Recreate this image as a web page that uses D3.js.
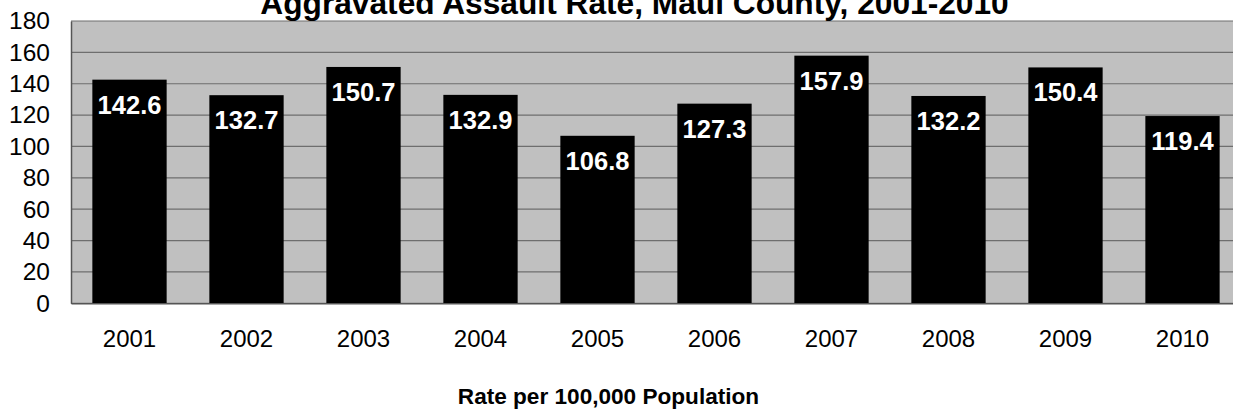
<!DOCTYPE html>
<html><head><meta charset="utf-8">
<script src="https://cdn.jsdelivr.net/npm/d3@7"></script>
<style>body{margin:0;background:#fff;overflow:hidden}svg{display:block;font-family:Arial,"Liberation Sans",sans-serif}</style>
</head><body>
<svg id="c" width="1233" height="411"></svg>
<script>
const years = ["2001","2002","2003","2004","2005","2006","2007","2008","2009","2010"];
const rates = [142.6,132.7,150.7,132.9,106.8,127.3,157.9,132.2,150.4,119.4];
const yTicks = [0,20,40,60,80,100,120,140,160,180];
const titleText = "Aggravated Assault Rate, Maui County, 2001-2010";
const xAxisTitle = "Rate per 100,000 Population";

const svg = d3.select("#c");
const L = 71, T = 21, B = 303.3, R = 71 + 1170;
const x = d3.scaleBand().domain(years).range([L, R]).paddingInner(0.365).paddingOuter(0.1825);
const y = d3.scaleLinear().domain([0,180]).range([B, T]);

svg.append("rect").attr("x", L).attr("y", T).attr("width", R - L).attr("height", B - T).attr("fill", "#c0c0c0");

svg.append("g").selectAll("line").data(yTicks).join("line")
  .attr("x1", L).attr("x2", R).attr("y1", d => y(d)).attr("y2", d => y(d))
  .attr("stroke", "#6e6e6e").attr("stroke-width", 1.2);

svg.append("g").selectAll("rect").data(rates).join("rect")
  .attr("x", (d,i) => x(years[i])).attr("width", x.bandwidth())
  .attr("y", d => y(d)).attr("height", d => B - y(d)).attr("fill", "#000");

svg.append("g").selectAll("text").data(rates).join("text")
  .attr("x", (d,i) => x(years[i]) + x.bandwidth()/2)
  .attr("y", d => y(d) + 34)
  .attr("text-anchor", "middle").attr("fill", "#fff")
  .attr("font-weight", "bold").attr("font-size", 25.5)
  .text(d => d.toFixed(1));

// axes
const yAxis = d3.axisLeft(y).tickValues(yTicks).tickSize(0).tickPadding(21);
const gy = svg.append("g").attr("transform", `translate(${L},0)`).call(yAxis);
gy.select(".domain").attr("stroke", "#555").attr("stroke-width", 1.5);
gy.selectAll("text").attr("font-size", 24.5).attr("fill", "#000").attr("font-family", "Arial, 'Liberation Sans', sans-serif");

const xAxis = d3.axisBottom(x).tickSize(0).tickPadding(27);
const gx = svg.append("g").attr("transform", `translate(0,${B})`).call(xAxis);
gx.select(".domain").attr("stroke", "#555").attr("stroke-width", 1.5);
gx.selectAll("text").attr("font-size", 24).attr("fill", "#000").attr("font-family", "Arial, 'Liberation Sans', sans-serif");

svg.append("text").attr("x", 634.5).attr("y", 14).attr("text-anchor", "middle")
  .attr("font-weight", "bold").attr("font-size", 31.7).text(titleText);
svg.append("text").attr("x", 608.5).attr("y", 404).attr("text-anchor", "middle")
  .attr("font-weight", "bold").attr("font-size", 22.6).text(xAxisTitle);
</script>
</body></html>
